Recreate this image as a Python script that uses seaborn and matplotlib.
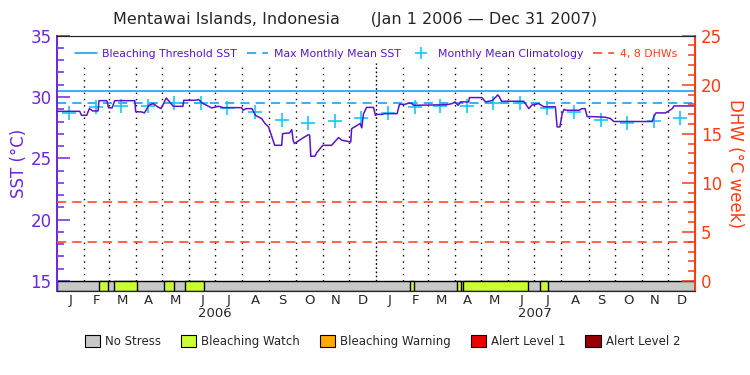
import numpy as np
import pandas as pd
import seaborn as sns
import matplotlib.pyplot as plt
import matplotlib.dates as mdates
import matplotlib.transforms as mtransforms
from matplotlib.lines import Line2D
from matplotlib.patches import Patch

start = pd.Timestamp("2006-01-01")
end = pd.Timestamp("2008-01-01")

# satellite SST, days since Jan 1 2006
sst_day = [0, 26, 28, 34, 37, 41, 47, 48, 57, 59, 63, 66, 89, 90, 97, 100, 105, 110,
           115, 119, 125, 133, 144, 145, 158, 162, 166, 177, 185, 190, 211, 213, 216,
           223, 227, 234, 238, 242, 249, 257, 258, 266, 268.5, 270, 271.6, 280, 287.6,
           289, 290.3, 295, 297, 304, 314, 322, 326, 336, 337, 346.7, 348.6, 350.5,
           354, 362, 364.2, 366, 372, 375, 389, 391.7, 398, 402, 405, 408, 446, 452,
           455, 458.8, 461.5, 470.9, 471.7, 486, 490, 497.6, 502, 504, 506, 508.4,
           533.9, 539.6, 543.4, 551, 556.8, 570, 572, 575.2, 577.8, 580, 582, 597,
           600.7, 604, 606.4, 612, 627, 633, 636.9, 680.8, 682.7, 685, 696, 703.7,
           705.6, 729]
sst_val = [28.83, 28.83, 28.51, 28.51, 29.05, 28.86, 28.86, 29.70, 29.70, 29.11, 29.11,
           29.70, 29.70, 28.80, 28.78, 28.70, 29.32, 29.46, 29.20, 29.05, 29.92, 29.24,
           29.24, 29.73, 29.73, 29.79, 29.50, 29.11, 29.24, 29.13, 29.13, 28.92, 29.05,
           29.05, 28.50, 28.24, 27.83, 27.56, 26.06, 26.06, 27.01, 27.07, 27.34, 26.50,
           26.20, 26.60, 26.93, 26.88, 25.17, 25.17, 25.45, 26.06, 26.06, 26.69, 26.47,
           26.33, 27.42, 27.83, 27.48, 28.60, 29.15, 29.15, 28.50, 28.58, 28.58, 28.64,
           28.64, 29.40, 29.40, 29.50, 29.50, 29.32, 29.37, 29.46, 29.60, 29.32, 29.60,
           29.60, 29.95, 29.95, 29.60, 29.70, 30.00, 30.17, 30.00, 29.65, 29.65, 29.05,
           29.35, 29.46, 29.20, 29.20, 27.56, 27.56, 28.64, 29.00, 28.92, 28.92, 29.05,
           29.05, 28.40, 28.40, 28.35, 28.24, 28.00, 28.00, 28.40, 28.70, 28.70, 29.05,
           29.27, 29.27]

# monthly mean climatology Jan..Dec
clim_val = [28.7, 29.2, 29.3, 29.3, 29.5, 29.5, 29.1, 28.75, 28.1, 27.85, 28.05, 28.3]
mmm = 29.5
threshold = 30.5
dhw_levels = [4, 8]

# bleaching watch periods (days since Jan 1 2006)
watch_start = [48, 65, 122, 146, 404, 458, 464, 553]
watch_end = [58, 91, 134, 168, 408, 462, 539, 562]

month_letters = ["J", "F", "M", "A", "M", "J", "J", "A", "S", "O", "N", "D"]
years = ["2006", "2007"]

stress_names = ["No Stress", "Bleaching Watch", "Bleaching Warning", "Alert Level 1", "Alert Level 2"]
stress_colors = ["#c8c8c8", "#ccff33", "#ffaa00", "#ee0000", "#960000"]

purple = "#5a14c8"
axis_purple = "#6a28dc"
red = "#ff3c10"
blue = "#0a96f0"
cyan = "#14c8ff"

sns.set_style("white")
plt.rcParams["font.family"] = ["DejaVu Sans"]

sst_dates = start + pd.to_timedelta(sst_day, unit="D")
month_starts = pd.date_range(start, periods=25, freq="MS")
mid_month = month_starts[:-1] + (month_starts[1:] - month_starts[:-1]) / 2
clim_dates = month_starts[:-1] + pd.Timedelta(days=14)

fig = plt.figure(figsize=(7.5, 3.75), dpi=100)
ax = fig.add_axes([0.076, 0.224, 0.851, 0.681])
ax.set_xlim(start, end)
ax.set_ylim(14.185, 35)

# month dividers
ax.vlines(month_starts[1:12], 15, 32.75, color="black", lw=1, linestyles=(0, (1, 3.5)))
ax.vlines(month_starts[13:24], 15, 32.75, color="black", lw=1, linestyles=(0, (1, 3.5)))
ax.vlines(month_starts[12:13], 15, 32.75, color="black", lw=1, linestyles=(0, (1.2, 1.8)))

ax.axhline(threshold, color=blue, lw=1.1)
ax.axhline(mmm, color=blue, lw=1.1, ls=(0, (6, 4)))

sns.scatterplot(x=clim_dates, y=np.tile(clim_val, 2), marker="+", s=90,
                color=cyan, linewidth=1.2, ax=ax, zorder=3)
sns.lineplot(x=sst_dates, y=sst_val, color=purple, lw=1.1, ax=ax, zorder=4)

# stress bar
x0 = mdates.date2num(start)
ax.broken_barh([(x0, mdates.date2num(end) - x0)], (14.185, 0.815),
               facecolors=stress_colors[0], edgecolor="black", lw=1)
segs = [(mdates.date2num(start + pd.Timedelta(days=s)), e - s) for s, e in zip(watch_start, watch_end)]
ax.broken_barh(segs, (14.185, 0.815), facecolors=stress_colors[1], edgecolor="black", lw=1)

ax.set_yticks([15, 20, 25, 30, 35])
ax.set_yticks(np.arange(16, 35), minor=True)
ax.tick_params(axis="y", which="major", direction="in", length=9.5, width=1.1,
               colors=axis_purple, labelsize=12, pad=4)
ax.tick_params(axis="y", which="minor", direction="in", length=4.8, width=1.1, colors=axis_purple)
ax.set_xticks(mid_month)
ax.set_xticklabels(month_letters * 2)
ax.tick_params(axis="x", length=0, labelsize=9.5, pad=2)
ax.set_xlabel("")
ax.set_ylabel("SST (°C)", color=axis_purple, fontsize=12, labelpad=2)
for s in ["top", "bottom"]:
    ax.spines[s].set_color("black")
ax.spines["left"].set_color(axis_purple)
ax.spines["left"].set_linewidth(1.4)

trans = mtransforms.blended_transform_factory(ax.transData, ax.transAxes)
for i, yr in enumerate(years):
    ax.text(pd.Timestamp(f"{yr}-07-01"), -0.088, yr, transform=trans, ha="center", va="center", fontsize=9.5)

ax2 = ax.twinx()
ax2.set_ylim(-1.02, 25)
for lvl in dhw_levels:
    ax2.axhline(lvl, color=red, lw=1.1, ls=(0, (6, 4)))
ax2.set_yticks([0, 5, 10, 15, 20, 25])
ax2.set_yticks(np.arange(1, 25), minor=True)
ax2.tick_params(axis="y", which="major", direction="in", length=9.5, width=1.1,
                colors=red, labelsize=12, pad=4)
ax2.tick_params(axis="y", which="minor", direction="in", length=4.8, width=1.1, colors=red)
ax2.set_ylabel("DHW (°C week)", color=red, fontsize=12, rotation=270, labelpad=16)
ax2.spines["right"].set_color(red)
ax2.spines["right"].set_linewidth(1.4)
ax2.spines["left"].set_visible(False)

handles = [Line2D([], [], color=blue, lw=1.1),
           Line2D([], [], color=blue, lw=1.1, ls=(0, (6, 4))),
           Line2D([], [], color=cyan, marker="+", ls="none", markersize=8, mew=1.2),
           Line2D([], [], color=red, lw=1.1, ls=(0, (6, 4)))]
labels = ["Bleaching Threshold SST", "Max Monthly Mean SST", "Monthly Mean Climatology", "4, 8 DHWs"]
leg = ax2.legend(handles, labels, ncol=4, loc="upper center", bbox_to_anchor=(0.5, 0.985),
                 frameon=False, fontsize=7.8, handlelength=2.0, columnspacing=0.9, handletextpad=0.5)
for t, c in zip(leg.get_texts(), [purple, purple, purple, red]):
    t.set_color(c)

box_handles = [Patch(facecolor=c, edgecolor="black", lw=0.8) for c in stress_colors]
fig.legend(box_handles, stress_names, ncol=5, loc="center", bbox_to_anchor=(0.51, 0.09),
           frameon=False, fontsize=8.5, handlelength=1.3, handleheight=1.2,
           columnspacing=1.7, handletextpad=0.4)

fig.text(0.151, 0.947, "Mentawai Islands, Indonesia      (Jan 1 2006 — Dec 31 2007)",
         ha="left", va="center", fontsize=11.5)

fig.savefig("out.png", dpi=100)
